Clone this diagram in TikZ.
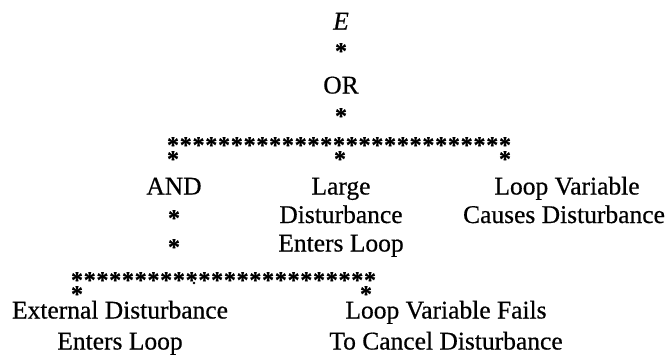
\documentclass[tikz,border=0pt]{standalone}
\usepackage{fontspec}
\setmainfont{Liberation Serif}[FakeBold=0.5]
\begin{document}
\begin{tikzpicture}[x=1pt,y=-1pt,
  lbl/.style={anchor=base, inner sep=0pt, font=\fontsize{25.5}{30}\selectfont},
  starmark/.style={anchor=base, inner sep=0pt, font=\fontsize{24}{28}\selectfont\bfseries}]
\useasboundingbox (0,0) rectangle (668,362);

% top event and the OR gate
\node[lbl] (top) at (341,29.5) {\textit{E}};
\node[starmark] (s1) at (341,59) {*};
\node[lbl] (or) at (341,93.5) {OR};
\node[starmark] (s2) at (341,124) {*};

% branch row under the OR gate
\foreach \i in {0,...,26}
  \node[starmark] (ra\i) at ({173+\i*12.77},153) {*};
\node[starmark] (ta) at (173,167) {*};
\node[starmark] (tb) at (340,167) {*};
\node[starmark] (tc) at (505,167) {*};

% second level
\node[lbl] (and) at (174,194.5) {AND};
\node[lbl] (big1) at (341,194.5) {Large};
\node[lbl] (big2) at (341,223) {Disturbance};
\node[lbl] (big3) at (341,251.5) {Enters Loop};
\node[lbl] (lv1) at (567,194.5) {Loop Variable};
\node[lbl] (lv2) at (564,223) {Causes Disturbance};
\node[starmark] (s3) at (174,226) {*};
\node[starmark] (s4) at (174,255) {*};

% branch row under the AND gate
\foreach \i in {0,...,23}
  \node[starmark] (rb\i) at ({77+\i*12.74},288) {*};
\fill (194,283) circle (1.3);
\node[starmark] (ua) at (77,302) {*};
\node[starmark] (ub) at (366,302) {*};

% basic events
\node[lbl] (ext1) at (120,318.5) {External Disturbance};
\node[lbl] (ext2) at (120,349.5) {Enters Loop};
\node[lbl] (fail1) at (446,318.5) {Loop Variable Fails};
\node[lbl] (fail2) at (446,349.5) {To Cancel Disturbance};
\end{tikzpicture}
\end{document}
